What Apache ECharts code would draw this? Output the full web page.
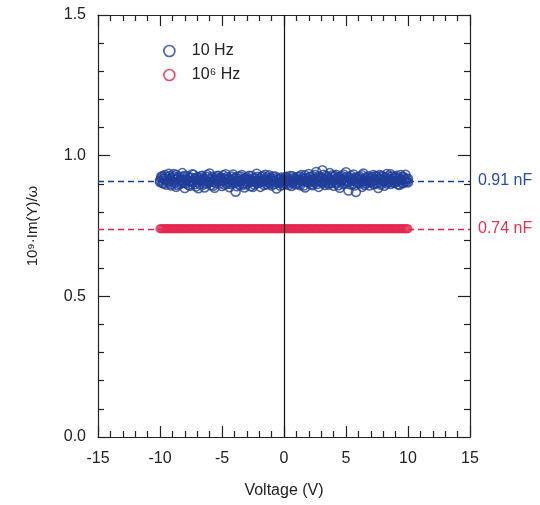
<!DOCTYPE html>
<html>
<head>
<meta charset="utf-8">
<script src="https://cdn.jsdelivr.net/npm/echarts@6/dist/echarts.min.js"></script>
<style>html,body{margin:0;padding:0;background:#fff;}#c{width:540px;height:505px;}</style>
</head>
<body>
<div id="c"></div>
<script>
// Voltage sweep (V)
const voltage = [
-10.0,-9.9,-9.8,-9.7,-9.6,-9.5,-9.4,-9.3,-9.2,-9.1,
-9.0,-8.9,-8.8,-8.7,-8.6,-8.5,-8.4,-8.3,-8.2,-8.1,
-8.0,-7.9,-7.8,-7.7,-7.6,-7.5,-7.4,-7.3,-7.2,-7.1,
-7.0,-6.9,-6.8,-6.7,-6.6,-6.5,-6.4,-6.3,-6.2,-6.1,
-6.0,-5.9,-5.8,-5.7,-5.6,-5.5,-5.4,-5.3,-5.2,-5.1,
-5.0,-4.9,-4.8,-4.7,-4.6,-4.5,-4.4,-4.3,-4.2,-4.1,
-4.0,-3.9,-3.8,-3.7,-3.6,-3.5,-3.4,-3.3,-3.2,-3.1,
-3.0,-2.9,-2.8,-2.7,-2.6,-2.5,-2.4,-2.3,-2.2,-2.1,
-2.0,-1.9,-1.8,-1.7,-1.6,-1.5,-1.4,-1.3,-1.2,-1.1,
-1.0,-0.9,-0.8,-0.7,-0.6,-0.5,-0.4,-0.3,-0.2,-0.1,
0.0,0.1,0.2,0.3,0.4,0.5,0.6,0.7,0.8,0.9,
1.0,1.1,1.2,1.3,1.4,1.5,1.6,1.7,1.8,1.9,
2.0,2.1,2.2,2.3,2.4,2.5,2.6,2.7,2.8,2.9,
3.0,3.1,3.2,3.3,3.4,3.5,3.6,3.7,3.8,3.9,
4.0,4.1,4.2,4.3,4.4,4.5,4.6,4.7,4.8,4.9,
5.0,5.1,5.2,5.3,5.4,5.5,5.6,5.7,5.8,5.9,
6.0,6.1,6.2,6.3,6.4,6.5,6.6,6.7,6.8,6.9,
7.0,7.1,7.2,7.3,7.4,7.5,7.6,7.7,7.8,7.9,
8.0,8.1,8.2,8.3,8.4,8.5,8.6,8.7,8.8,8.9,
9.0,9.1,9.2,9.3,9.4,9.5,9.6,9.7,9.8,9.9,
10.0
];
// 10 Hz capacitance (nF), forward sweep
const cap10HzFwd = [
0.912,0.925,0.903,0.918,0.931,0.897,0.915,0.908,0.928,0.894,
0.921,0.935,0.905,0.889,0.917,0.926,0.899,0.912,0.938,0.903,
0.885,0.916,0.927,0.908,0.893,0.922,0.911,0.932,0.898,0.919,
0.906,0.884,0.921,0.913,0.929,0.897,0.915,0.902,0.924,0.909,
0.937,0.895,0.918,0.907,0.886,0.923,0.912,0.929,0.901,0.915,
0.892,0.921,0.908,0.934,0.899,0.917,0.888,0.913,0.926,0.904,
0.918,0.872,0.911,0.925,0.896,0.909,0.931,0.902,0.887,0.916,
0.923,0.905,0.914,0.891,0.928,0.909,0.897,0.919,0.936,0.903,
0.911,0.889,0.924,0.907,0.915,0.932,0.898,0.913,0.905,0.921,
0.894,0.917,0.909,0.926,0.883,0.912,0.903,0.919,0.908,0.896,
0.914,0.922,0.899,0.911,0.905,0.918,0.892,0.927,0.909,0.915,
0.901,0.924,0.913,0.895,0.931,0.908,0.917,0.887,0.921,0.906,
0.935,0.911,0.898,0.927,0.916,0.904,0.942,0.912,0.889,0.923,
0.907,0.948,0.915,0.896,0.929,0.918,0.903,0.938,0.911,0.924,
0.893,0.916,0.932,0.905,0.921,0.886,0.913,0.927,0.898,0.919,
0.941,0.908,0.876,0.922,0.914,0.897,0.933,0.909,0.871,0.918,
0.904,0.926,0.912,0.889,0.937,0.915,0.901,0.923,0.908,0.894,
0.919,0.907,0.931,0.898,0.913,0.926,0.885,0.917,0.904,0.929,
0.911,0.893,0.922,0.935,0.906,0.918,0.899,0.927,0.912,0.903,
0.924,0.908,0.915,0.896,0.931,0.913,0.902,0.921,0.909,0.917,
0.905
];
// 10 Hz capacitance (nF), return sweep
const cap10HzRev = [
0.906,0.919,0.928,0.901,0.913,0.924,0.908,0.936,0.917,0.899,
0.909,0.927,0.914,0.932,0.896,0.920,0.911,0.903,0.925,0.915,
0.929,0.902,0.913,0.896,0.921,0.910,0.934,0.905,0.918,0.890,
0.923,0.914,0.899,0.927,0.908,0.919,0.887,0.912,0.931,0.903,
0.916,0.907,0.925,0.893,0.914,0.902,0.928,0.918,0.909,0.921,
0.911,0.930,0.897,0.915,0.924,0.906,0.919,0.899,0.912,0.933,
0.904,0.923,0.891,0.917,0.908,0.926,0.913,0.897,0.920,0.909,
0.898,0.917,0.929,0.906,0.913,0.889,0.921,0.910,0.902,0.925,
0.919,0.905,0.911,0.928,0.896,0.914,0.923,0.907,0.930,0.900,
0.913,0.926,0.899,0.908,0.920,0.904,0.916,0.893,0.922,0.911,
0.902,0.909,0.925,0.917,0.896,0.928,0.910,0.904,0.921,0.898,
0.918,0.907,0.899,0.926,0.912,0.921,0.894,0.930,0.909,0.916,
0.903,0.925,0.914,0.895,0.908,0.931,0.919,0.899,0.927,0.910,
0.920,0.903,0.932,0.912,0.906,0.924,0.897,0.915,0.903,0.930,
0.912,0.928,0.901,0.918,0.895,0.926,0.907,0.914,0.933,0.902,
0.913,0.925,0.906,0.898,0.929,0.911,0.918,0.894,0.922,0.907,
0.923,0.901,0.917,0.930,0.908,0.896,0.920,0.913,0.927,0.905,
0.911,0.924,0.899,0.915,0.928,0.903,0.919,0.931,0.897,0.914,
0.925,0.908,0.915,0.901,0.927,0.912,0.934,0.906,0.918,0.923,
0.909,0.929,0.898,0.920,0.912,0.904,0.926,0.915,0.932,0.907,
0.918
];
// 10^6 Hz capacitance (nF)
const cap1MHz = [
0.74,0.74,0.74,0.74,0.74,0.74,0.74,0.74,0.74,0.74,
0.74,0.74,0.74,0.74,0.74,0.74,0.74,0.74,0.74,0.74,
0.74,0.74,0.74,0.74,0.74,0.74,0.74,0.74,0.74,0.74,
0.74,0.74,0.74,0.74,0.74,0.74,0.74,0.74,0.74,0.74,
0.74,0.74,0.74,0.74,0.74,0.74,0.74,0.74,0.74,0.74,
0.74,0.74,0.74,0.74,0.74,0.74,0.74,0.74,0.74,0.74,
0.74,0.74,0.74,0.74,0.74,0.74,0.74,0.74,0.74,0.74,
0.74,0.74,0.74,0.74,0.74,0.74,0.74,0.74,0.74,0.74,
0.74,0.74,0.74,0.74,0.74,0.74,0.74,0.74,0.74,0.74,
0.74,0.74,0.74,0.74,0.74,0.74,0.74,0.74,0.74,0.74,
0.74,0.74,0.74,0.74,0.74,0.74,0.74,0.74,0.74,0.74,
0.74,0.74,0.74,0.74,0.74,0.74,0.74,0.74,0.74,0.74,
0.74,0.74,0.74,0.74,0.74,0.74,0.74,0.74,0.74,0.74,
0.74,0.74,0.74,0.74,0.74,0.74,0.74,0.74,0.74,0.74,
0.74,0.74,0.74,0.74,0.74,0.74,0.74,0.74,0.74,0.74,
0.74,0.74,0.74,0.74,0.74,0.74,0.74,0.74,0.74,0.74,
0.74,0.74,0.74,0.74,0.74,0.74,0.74,0.74,0.74,0.74,
0.74,0.74,0.74,0.74,0.74,0.74,0.74,0.74,0.74,0.74,
0.74,0.74,0.74,0.74,0.74,0.74,0.74,0.74,0.74,0.74,
0.74,0.74,0.74,0.74,0.74,0.74,0.74,0.74,0.74,0.74,
0.74
];
const seriesNames = ['10 Hz', '10⁶ Hz'];
const refLevels = [0.91, 0.74];
const refLabels = ['0.91 nF', '0.74 nF'];
const xTicks = { min: -15, max: 15, interval: 5 };
const yTicks = { min: 0, max: 1.5, interval: 0.5 };

const BLUE = '#1f3d98';
const RED = '#e3244f';
const AX = '#222';
const FONT = 'Liberation Sans, Arial, sans-serif';
const FS = 16;

function pairs(xs, ys) { return xs.map((x, i) => [x, ys[i]]); }

function xAxisCfg(pos, labels) {
  return {
    type: 'value', position: pos, min: xTicks.min, max: xTicks.max, interval: xTicks.interval,
    axisLine: { show: true, onZero: false, lineStyle: { color: AX, width: 1.2 } },
    axisTick: { show: true, inside: true, length: 11, lineStyle: { color: AX, width: 1.2 } },
    minorTick: { show: true, splitNumber: 5, length: 6, lineStyle: { color: AX, width: 1.2 } },
    splitLine: { show: false },
    axisLabel: { show: labels, fontSize: FS, color: AX, margin: 14, fontFamily: FONT },
    name: labels ? 'Voltage (V)' : '', nameLocation: 'middle', nameGap: 46,
    nameTextStyle: { fontSize: FS, color: AX, fontFamily: FONT }
  };
}
function yAxisCfg(pos, labels) {
  return {
    type: 'value', position: pos, min: yTicks.min, max: yTicks.max, interval: yTicks.interval,
    axisLine: { show: true, onZero: false, lineStyle: { color: AX, width: 1.2 } },
    axisTick: { show: true, inside: true, length: 12, lineStyle: { color: AX, width: 1.2 } },
    minorTick: { show: true, splitNumber: 5, length: 6, lineStyle: { color: AX, width: 1.2 } },
    splitLine: { show: false },
    axisLabel: { show: labels, fontSize: FS, color: AX, margin: 12, fontFamily: FONT,
      formatter: v => v.toFixed(1) },
    name: labels ? '10⁹·Im(Y)/ω' : '', nameLocation: 'middle', nameGap: 58,
    nameTextStyle: { fontSize: 15, color: AX, fontFamily: FONT }
  };
}

function refLine(value, color) {
  return { yAxis: value, lineStyle: { type: [6, 4], color: color, width: 1.3 } };
}

const blueStyle = { color: 'rgba(0,0,0,0)', borderColor: BLUE, borderWidth: 1.5 };

const chart = echarts.init(document.getElementById('c'), null, { renderer: 'canvas' });
chart.setOption({
  animation: false,
  backgroundColor: '#fff',
  grid: { left: 98, right: 70, top: 15, bottom: 68 },
  legend: {
    orient: 'vertical', left: 158, top: 38, itemWidth: 11, itemHeight: 11, itemGap: 8,
    textStyle: { fontSize: FS, color: AX, fontFamily: FONT, padding: [0, 0, 0, 12] },
    data: [
      { name: seriesNames[0], icon: 'circle', itemStyle: { color: 'rgba(0,0,0,0)', borderColor: BLUE, borderWidth: 1.7 } },
      { name: seriesNames[1], icon: 'circle', itemStyle: { color: 'rgba(0,0,0,0)', borderColor: RED, borderWidth: 1.7 } }
    ]
  },
  xAxis: [xAxisCfg('bottom', true), xAxisCfg('top', false)],
  yAxis: [yAxisCfg('left', true), yAxisCfg('right', false)],
  series: [
    {
      name: seriesNames[0], type: 'scatter', xAxisIndex: 0, yAxisIndex: 0,
      symbol: 'circle', symbolSize: 9,
      itemStyle: blueStyle,
      data: pairs(voltage, cap10HzFwd),
      z: 3,
      markLine: {
        silent: true, symbol: ['none', 'none'], animation: false,
        label: { show: true, position: 'end', distance: 8, color: '#2b4ca6', fontSize: FS, fontFamily: FONT,
          formatter: refLabels[0] },
        data: [
          refLine(refLevels[0], BLUE),
          { xAxis: 0, lineStyle: { type: 'solid', color: '#111', width: 1.2 }, label: { show: false } }
        ]
      }
    },
    {
      name: seriesNames[0], type: 'scatter', xAxisIndex: 0, yAxisIndex: 0,
      symbol: 'circle', symbolSize: 9,
      itemStyle: blueStyle,
      data: pairs(voltage, cap10HzRev),
      z: 3
    },
    {
      name: seriesNames[1], type: 'scatter', xAxisIndex: 0, yAxisIndex: 0,
      symbol: 'circle', symbolSize: 7.5,
      itemStyle: { color: 'rgba(0,0,0,0)', borderColor: RED, borderWidth: 1.6 },
      data: pairs(voltage, cap1MHz),
      z: 2,
      markLine: {
        silent: true, symbol: ['none', 'none'], animation: false,
        label: { show: true, position: 'end', distance: 8, color: '#e8304f', fontSize: FS, fontFamily: FONT,
          formatter: refLabels[1] },
        data: [refLine(refLevels[1], RED)]
      }
    }
  ]
});
</script>
</body>
</html>
